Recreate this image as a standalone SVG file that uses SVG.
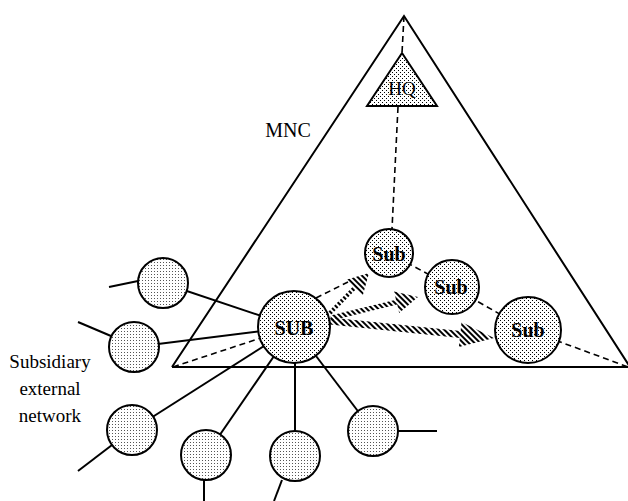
<svg xmlns="http://www.w3.org/2000/svg" width="628" height="501" viewBox="0 0 628 501">
<style>
.ln{stroke:#000;stroke-width:2;fill:none}
.ds{stroke:#000;stroke-width:1.6;fill:none;stroke-dasharray:6 4}
.nd{stroke:#000;stroke-width:2;fill:url(#dots)}
.ext{stroke:#000;stroke-width:2;fill:url(#dots2)}
.lbl{font-family:"Liberation Serif","Times New Roman",serif;font-size:20px;font-weight:bold;text-anchor:middle;fill:#000}
.txt{font-family:"Liberation Serif","Times New Roman",serif;fill:#000}
.arr{fill:url(#hatch);stroke:none}
</style>
<defs>
<pattern id="dots" width="4" height="4" patternUnits="userSpaceOnUse"><rect width="4" height="4" fill="#fff"/><rect x="0" y="0" width="1" height="1" fill="#000"/><rect x="2" y="2" width="1" height="1" fill="#000"/></pattern>
<pattern id="dots2" width="3" height="3" patternUnits="userSpaceOnUse"><rect width="3" height="3" fill="#fff"/><rect x="1" y="1" width="1" height="1" fill="#555"/></pattern>
<pattern id="hatch" width="4" height="4" patternUnits="userSpaceOnUse" patternTransform="rotate(-45)"><rect width="2" height="4" fill="#000"/></pattern>
</defs>
<g id="mnc">
<polyline class="ln" points="172,367 404,16 630,367"/>
<line class="ln" x1="172" y1="367" x2="628" y2="367"/>
<text class="txt" x="288" y="137" font-size="20" text-anchor="middle">MNC</text>
</g>
<g id="connectors">
<line class="ds" x1="404" y1="16" x2="402" y2="53"/>
<line class="ds" x1="398" y1="107" x2="392" y2="229"/>
<line class="ds" x1="389" y1="253" x2="452" y2="287"/>
<line class="ds" x1="452" y1="287" x2="528" y2="330"/>
<line class="ds" x1="528" y1="330" x2="628" y2="367"/>
<line class="ds" x1="316" y1="298" x2="348" y2="282"/>
<line class="ds" x1="173" y1="367" x2="294" y2="327"/>
<line class="ln" x1="163" y1="283" x2="294" y2="327"/>
<line class="ln" x1="109" y1="287" x2="138" y2="281"/>
<line class="ln" x1="134" y1="347" x2="294" y2="327"/>
<line class="ln" x1="78" y1="322" x2="111" y2="336"/>
<line class="ln" x1="132" y1="430" x2="294" y2="327"/>
<line class="ln" x1="112" y1="445" x2="78" y2="471"/>
<line class="ln" x1="206" y1="455" x2="294" y2="327"/>
<line class="ln" x1="204" y1="480" x2="204" y2="501"/>
<line class="ln" x1="295" y1="456" x2="295" y2="327"/>
<line class="ln" x1="282" y1="480" x2="274" y2="501"/>
<line class="ln" x1="373" y1="431" x2="294" y2="327"/>
<line class="ln" x1="398" y1="431" x2="437" y2="431"/>
</g>
<g id="hq">
<polygon class="nd" points="402,53 437,106 367,106"/>
<text class="txt" x="402" y="95" font-size="19" text-anchor="middle">HQ</text>
</g>
<g id="ext1"><circle class="ext" cx="163" cy="283" r="25"/></g>
<g id="ext2"><circle class="ext" cx="134" cy="347" r="25"/></g>
<g id="ext3"><circle class="ext" cx="132" cy="430" r="25"/></g>
<g id="ext4"><circle class="ext" cx="206" cy="455" r="25"/></g>
<g id="ext5"><circle class="ext" cx="295" cy="456" r="25"/></g>
<g id="ext6"><circle class="ext" cx="373" cy="431" r="25"/></g>
<g id="SUB">
<circle class="nd" cx="294" cy="327" r="36"/>
<text class="lbl" x="294" y="335" font-size="21">SUB</text>
</g>
<g id="sub1">
<circle class="nd" cx="389" cy="253" r="24"/>
<text class="lbl" x="389" y="261" font-size="19">Sub</text>
</g>
<g id="sub2">
<circle class="nd" cx="452" cy="287" r="27"/>
<text class="lbl" x="451" y="294">Sub</text>
</g>
<g id="sub3">
<circle class="nd" cx="528" cy="330" r="33"/>
<text class="lbl" x="528" y="337">Sub</text>
</g>
<g id="arrows">
<polygon class="arr" points="330.4,315.4 356.4,288.7 362.9,295.0 369,273 347.1,279.6 353.6,285.9 327.6,312.6"/>
<polygon class="arr" points="331.6,320.4 397.2,304.6 399.2,312.9 418,297 394.0,291.5 396.0,299.8 330.4,315.6"/>
<polygon class="arr" points="329.6,324.5 459.8,338.0 458.9,346.9 494,338 461.5,322.1 460.6,331.0 330.4,317.5"/>
</g>
<g id="label">
<text class="txt" font-size="19" text-anchor="middle"><tspan x="50" y="368">Subsidiary</tspan><tspan x="50" y="395">external</tspan><tspan x="50" y="422">network</tspan></text>
</g>
</svg>
